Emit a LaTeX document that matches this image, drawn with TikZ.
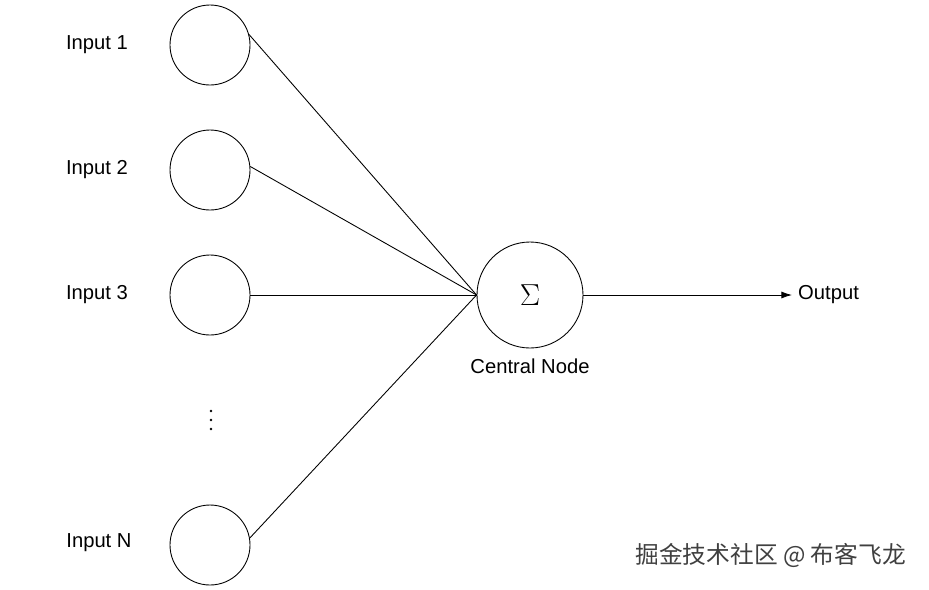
\documentclass[tikz,border=0pt]{standalone}
\usepackage{fontspec}
\setmainfont{Liberation Sans}
\newfontfamily\cjk{Noto Sans CJK SC}
\usetikzlibrary{arrows.meta}
\begin{document}
\begin{tikzpicture}[x=0.02cm,y=-0.02cm,
  inp/.style={circle,draw,line width=0.5pt,minimum size=80*0.02cm,inner sep=0pt},
  lab/.style={font=\fontsize{11.5}{13}\selectfont},
  dot/.style={circle,fill,inner sep=0pt,minimum size=2.6*0.02cm},
  conn/.style={line width=0.5pt}]
\useasboundingbox (0,0) rectangle (929,589);
\node[inp] (i1) at (210,45) {};
\node[inp] (i2) at (210,170) {};
\node[inp] (i3) at (210,295) {};
\node[inp] (iN) at (210,545) {};
\node[circle,draw,line width=0.5pt,minimum size=106*0.02cm,inner sep=0pt,font=\fontsize{17}{19}\selectfont] (c) at (530,295) {$\Sigma$};
\coordinate (m) at (c.west);
\node[lab] (l1) at (97,45) {Input 1};
\node[lab] (l2) at (97,170) {Input 2};
\node[lab] (l3) at (97,295) {Input 3};
\node[lab] (lN) at (99,543) {Input N};
\node[lab] (cl) at (530,366) {Central Node};
\node[lab,anchor=west] (out) at (792,295) {Output};
\node[dot] (d1) at (211,411) {};
\node[dot] (d2) at (211,420) {};
\node[dot] (d3) at (211,429) {};
\draw[conn] (i1.15) -- (m);
\draw[conn] (i2.5) -- (m);
\draw[conn] (i3.east) -- (m);
\draw[conn] (iN.10) -- (m);
\draw[conn,-{Latex[length=6pt,width=4pt]}] (c.east) -- (out.west);
\node[font=\fontsize{13.5}{15}\cjk, text=black!75, anchor=east] (wm) at (912,555) {掘金技术社区 @ 布客飞龙};
\end{tikzpicture}
\end{document}
